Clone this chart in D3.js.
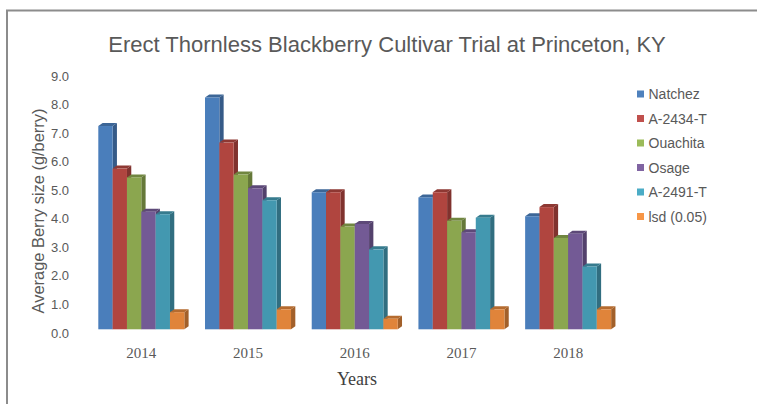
<!DOCTYPE html>
<html>
<head>
<meta charset="utf-8">
<script src="https://cdn.jsdelivr.net/npm/d3@7"></script>
<style>
  body { margin: 0; background: #fff; }
  svg { display: block; }
</style>
</head>
<body>
<div id="chart"></div>
<script>
var years = ["2014", "2015", "2016", "2017", "2018"];
var cultivars = ["Natchez", "A-2434-T", "Ouachita", "Osage", "A-2491-T", "lsd (0.05)"];
var colors = ["#4a7ebb", "#b0453f", "#8ba64f", "#735a95", "#4398b0", "#e0843a"];
var legendColors = ["#4f81bd", "#c0504d", "#9bbb59", "#8064a2", "#4bacc6", "#f79646"];

// berry size (g/berry) per cultivar, one value per year
var natchez  = [7.12, 8.12, 4.8, 4.62, 3.96];
var a2434t   = [5.63, 6.54, 4.8, 4.8, 4.28];
var ouachita = [5.32, 5.42, 3.6, 3.8, 3.2];
var osage    = [4.12, 4.94, 3.69, 3.4, 3.35];
var a2491t   = [4.03, 4.52, 2.8, 3.91, 2.2];
var lsd      = [0.6, 0.7, 0.37, 0.7, 0.7];
var series = [natchez, a2434t, ouachita, osage, a2491t, lsd];

var yTicks = [0, 1, 2, 3, 4, 5, 6, 7, 8, 9];

var width = 757, height = 404;
var depthX = 4.3, depthY = 3;

var svg = d3.select("#chart").append("svg")
  .attr("width", width)
  .attr("height", height);

// chart frame
svg.append("path")
  .attr("d", "M7,404 V10.5 H757")
  .attr("fill", "none")
  .attr("stroke", "#8c8c8c")
  .attr("stroke-width", 2);

var x0 = d3.scaleBand().domain(years).range([87.95, 621.5])
  .paddingInner(0.194).paddingOuter(0.097);
var x1 = d3.scaleBand().domain(cultivars).range([0, x0.bandwidth()]);
var y = d3.scaleLinear().domain([0, 9]).range([329.3, 72.35]);

function fitText(sel, target) {
  var w = sel.node().getComputedTextLength();
  var fs = parseFloat(sel.attr("font-size"));
  sel.attr("font-size", fs * target / w);
}

// title
var title = svg.append("text")
  .attr("x", 387)
  .attr("y", 52)
  .attr("text-anchor", "middle")
  .attr("font-family", "Liberation Sans, Arial, sans-serif")
  .attr("font-size", 20)
  .attr("fill", "#595959")
  .text("Erect Thornless Blackberry Cultivar Trial at Princeton, KY");
fitText(title, 558);

// y axis
var yAxis = d3.axisLeft(y).tickValues(yTicks).tickFormat(d3.format(".1f")).tickSize(0).tickPadding(0);
var gy = svg.append("g")
  .attr("transform", "translate(69,3.6)")
  .call(yAxis);
gy.select(".domain").remove();
gy.selectAll("text")
  .attr("font-family", "Liberation Sans, Arial, sans-serif")
  .attr("font-size", 13)
  .attr("fill", "#595959");

var ytitle = svg.append("text")
  .attr("transform", "translate(44,211) rotate(-90)")
  .attr("text-anchor", "middle")
  .attr("font-family", "Liberation Sans, Arial, sans-serif")
  .attr("font-size", 14)
  .attr("fill", "#595959")
  .text("Average Berry size (g/berry)");
fitText(ytitle, 205);

// bars
var groups = svg.selectAll(".year")
  .data(years)
  .enter().append("g")
  .attr("class", "year")
  .attr("transform", function(d) { return "translate(" + x0(d) + ",0)"; });

groups.each(function(year, yi) {
  var g = d3.select(this);
  cultivars.forEach(function(c, ci) {
    var v = series[ci][yi];
    var bx = x1(c), bw = x1.bandwidth();
    var top = y(v), base = y(0);
    var col = d3.color(colors[ci]);
    // side face
    g.append("path")
      .attr("d", "M" + (bx + bw) + "," + top + " L" + (bx + bw + depthX) + "," + (top - depthY) +
        " L" + (bx + bw + depthX) + "," + (base - depthY) + " L" + (bx + bw) + "," + base + "Z")
      .attr("fill", col.darker(0.9));
    // top face
    g.append("path")
      .attr("d", "M" + bx + "," + top + " L" + (bx + depthX) + "," + (top - depthY) +
        " L" + (bx + bw + depthX) + "," + (top - depthY) + " L" + (bx + bw) + "," + top + "Z")
      .attr("fill", col.darker(0.6));
    // front face
    g.append("rect")
      .attr("x", bx)
      .attr("y", top)
      .attr("width", bw)
      .attr("height", base - top)
      .attr("fill", colors[ci]);
  });
});

// x labels
svg.selectAll(".xlabel")
  .data(years)
  .enter().append("text")
  .attr("class", "xlabel")
  .attr("x", function(d) { return x0(d) + x0.bandwidth() / 2; })
  .attr("y", 358)
  .attr("text-anchor", "middle")
  .attr("font-family", "Liberation Serif, Times New Roman, serif")
  .attr("font-size", 15)
  .attr("fill", "#595959")
  .text(function(d) { return d; });

svg.append("text")
  .attr("x", 357)
  .attr("y", 385)
  .attr("text-anchor", "middle")
  .attr("font-family", "Liberation Serif, Times New Roman, serif")
  .attr("font-size", 18)
  .attr("fill", "#404040")
  .text("Years");

// legend
var legend = svg.selectAll(".legend")
  .data(cultivars)
  .enter().append("g")
  .attr("class", "legend")
  .attr("transform", function(d, i) { return "translate(637," + (94 + i * 24.5) + ")"; });

legend.append("rect")
  .attr("x", 0)
  .attr("y", -3.5)
  .attr("width", 7)
  .attr("height", 7)
  .attr("fill", function(d, i) { return legendColors[i]; });

legend.append("text")
  .attr("x", 11.5)
  .attr("y", 5)
  .attr("font-family", "Liberation Sans, Arial, sans-serif")
  .attr("font-size", 14)
  .attr("fill", "#595959")
  .text(function(d) { return d; });
</script>
</body>
</html>
